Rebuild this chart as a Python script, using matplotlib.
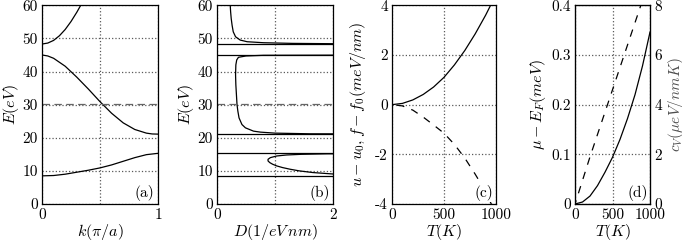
import matplotlib
matplotlib.use("Agg")
import matplotlib.pyplot as plt

plt.rcParams['font.family'] = 'serif'
plt.rcParams['font.serif'] = ['cmr10']
plt.rcParams['mathtext.fontset'] = 'cm'
plt.rcParams['axes.unicode_minus'] = False
plt.rcParams['axes.formatter.use_mathtext'] = True

# (a) band structure
k_low = [0, 0.1, 0.2, 0.3, 0.4, 0.5, 0.6, 0.7, 0.8, 0.9, 1.0]
E_low = [8.5, 8.6, 9.0, 9.6, 10.2, 10.9, 11.8, 12.9, 14.0, 14.9, 15.3]
k_mid = [0, 0.05, 0.1, 0.2, 0.3, 0.4, 0.5, 0.6, 0.7, 0.8, 0.9, 0.95, 1.0]
E_mid = [45.0, 44.7, 44.0, 41.6, 38.3, 34.7, 30.9, 27.4, 24.5, 22.5, 21.4, 21.15, 21.1]
k_up = [0, 0.05, 0.1, 0.15, 0.2, 0.25, 0.3, 0.35]
E_up = [48.3, 48.6, 49.4, 50.8, 52.7, 55.1, 57.9, 61.0]
E_fermi = 30.2

# (b) density of states
E_dos1 = [8.52, 8.7, 9.0, 9.5, 10.0, 10.5, 11.0, 11.5, 12.0, 12.5, 13.0, 13.5, 14.0, 14.5, 14.8, 15.0, 15.15, 15.28]
D_dos1 = [4.0, 2.6, 2.05, 1.65, 1.42, 1.26, 1.13, 1.03, 0.96, 0.91, 0.88, 0.88, 0.92, 1.03, 1.2, 1.45, 1.9, 4.0]
E_dos2 = [21.12, 21.2, 21.4, 21.7, 22.0, 23.0, 24.0, 26.0, 28.0, 30.0, 33.0, 36.0, 39.0, 42.0, 43.5, 44.3, 44.7, 44.9, 44.98]
D_dos2 = [4.0, 1.6, 1.0, 0.75, 0.63, 0.49, 0.43, 0.38, 0.36, 0.345, 0.335, 0.325, 0.32, 0.325, 0.34, 0.37, 0.5, 0.8, 3.0]
E_dos3 = [48.32, 48.4, 48.5, 48.7, 49.0, 49.5, 50.5, 52.0, 54.0, 56.0, 58.0, 60.0]
D_dos3 = [4.0, 2.0, 1.3, 0.8, 0.52, 0.4, 0.32, 0.28, 0.26, 0.245, 0.235, 0.228]
band_edges = [8.5, 15.3, 21.1, 45.0, 48.4]

# (c) energy and free energy
T_c = [0, 100, 200, 300, 400, 500, 600, 700, 800, 900, 960]
u_c = [0, 0.05, 0.19, 0.41, 0.71, 1.1, 1.6, 2.18, 2.85, 3.6, 4.1]
T_f = [0, 100, 200, 300, 400, 500, 600, 700, 800, 900, 960]
f_c = [0, -0.05, -0.22, -0.5, -0.82, -1.15, -1.6, -2.15, -2.8, -3.5, -4.05]

# (d) chemical potential and heat capacity
T_d = [0, 100, 200, 300, 400, 500, 600, 700, 800, 900, 1000]
mu_d = [0, 0.004, 0.016, 0.037, 0.064, 0.094, 0.13, 0.172, 0.22, 0.278, 0.346]
T_cv = [0, 100, 200, 300, 400, 500, 600, 700, 800, 900]
cv_d = [0, 0.95, 1.9, 2.8, 3.7, 4.6, 5.5, 6.4, 7.3, 8.2]

fig = plt.figure(figsize=(6.82, 2.43), dpi=100)
W, H = 682.0, 243.0
TICK = 11
LAB = 11.5


def make_ax(x0, x1, y0=5.3, y1=204.0):
    return fig.add_axes([x0 / W, 1 - y1 / H, (x1 - x0) / W, (y1 - y0) / H])


def style(ax):
    ax.grid(True, linestyle=':', color='0.35', linewidth=0.9)
    ax.tick_params(length=0, labelsize=TICK, pad=3)
    for s in ax.spines.values():
        s.set_linewidth(0.9)


def tag(ax, s):
    ax.text(0.97, 0.015, s, transform=ax.transAxes, ha='right', va='bottom',
            fontsize=TICK, bbox=dict(facecolor='white', edgecolor='none', pad=0.5))


dash = (0, (6, 3.5))

# (a)
ax = make_ax(42, 158)
ax.plot(k_low, E_low, color='k', lw=0.9)
ax.plot(k_mid, E_mid, color='k', lw=0.9)
ax.plot(k_up, E_up, color='k', lw=0.9)
ax.axhline(E_fermi, color='0.4', lw=0.9, ls=dash)
ax.set_xlim(0, 1)
ax.set_ylim(0, 60)
ax.set_xticks([0, 0.5, 1])
ax.set_xticklabels(['0', '', '1'])
ax.set_yticks([0, 10, 20, 30, 40, 50, 60])
ax.set_yticklabels(['0', '10', '20', '30', '40', '50', '60'])
ax.set_xlabel(r'$k(\pi/a)$', fontsize=LAB, labelpad=0)
ax.set_ylabel(r'$E(eV)$', fontsize=LAB, labelpad=1)
style(ax)
tag(ax, '(a)')

# (b)
ax = make_ax(217, 333)
ax.plot(D_dos1, E_dos1, color='k', lw=0.9)
ax.plot(D_dos2, E_dos2, color='k', lw=0.9)
ax.plot(D_dos3, E_dos3, color='k', lw=0.9)
for e in band_edges:
    ax.axhline(e, color='k', lw=0.9)
ax.axhline(E_fermi, color='0.4', lw=0.9, ls=dash)
ax.set_xlim(0, 2)
ax.set_ylim(0, 60)
ax.set_xticks([0, 1, 2])
ax.set_xticklabels(['0', '', '2'])
ax.set_yticks([0, 10, 20, 30, 40, 50, 60])
ax.set_yticklabels(['0', '10', '20', '30', '40', '50', '60'])
ax.set_xlabel(r'$D(1/eV\,nm)$', fontsize=LAB, labelpad=0)
ax.set_ylabel(r'$E(eV)$', fontsize=LAB, labelpad=1)
style(ax)
tag(ax, '(b)')

# (c)
ax = make_ax(392, 496)
ax.plot(T_c, u_c, color='k', lw=0.9)
ax.plot(T_f, f_c, color='k', lw=0.9, ls=(8, (6, 6)))
ax.set_xlim(0, 1000)
ax.set_ylim(-4, 4)
ax.set_xticks([0, 500, 1000])
ax.set_xticklabels(['0', '500', '1000'])
ax.set_yticks([-4, -2, 0, 2, 4])
ax.set_yticklabels(['-4', '-2', '0', '2', '4'])
ax.set_xlabel(r'$T(K)$', fontsize=LAB, labelpad=0)
ax.set_ylabel(r'$u-u_0,f-f_0(meV/nm)$', fontsize=LAB, labelpad=5)
style(ax)
tag(ax, '(c)')

# (d)
ax = make_ax(575, 650)
ax.plot(T_d, mu_d, color='k', lw=0.9)
ax.set_xlim(0, 1000)
ax.set_ylim(0, 0.4)
ax.set_xticks([0, 500, 1000])
ax.set_xticklabels(['0', '500', '1000'])
ax.set_yticks([0, 0.1, 0.2, 0.3, 0.4])
ax.set_yticklabels(['0', '0.1', '0.2', '0.3', '0.4'])
ax.set_xlabel(r'$T(K)$', fontsize=LAB, labelpad=0)
ax.set_ylabel(r'$\mu-E_F(meV)$', fontsize=LAB, labelpad=2)
style(ax)
tag(ax, '(d)')
ax2 = ax.twinx()
ax2.plot(T_cv, cv_d, color='k', lw=0.9, ls=(3, (6, 6)))
ax2.set_ylim(0, 8)
ax2.set_yticks([0, 2, 4, 6, 8])
ax2.set_yticklabels(['0', '2', '4', '6', '8'])
ax2.set_ylabel(r'$c_V(\mu eV/nmK)$', fontsize=11, color='0.3')
ax2.yaxis.set_label_coords(1.22, 0.5)
ax2.tick_params(length=0, labelsize=TICK, pad=3)

fig.savefig('out.png', dpi=100)
